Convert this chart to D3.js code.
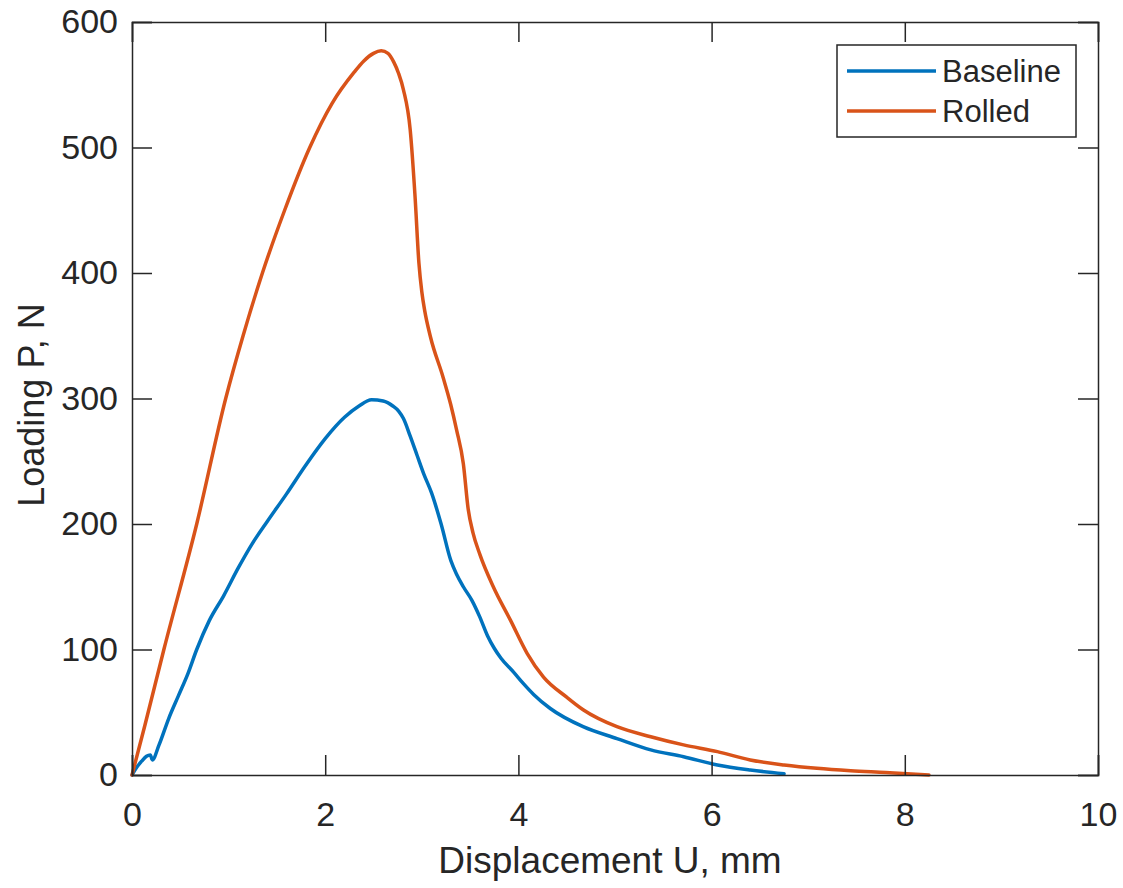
<!DOCTYPE html>
<html>
<head>
<meta charset="utf-8">
<script src="https://cdn.jsdelivr.net/npm/d3@7"></script>
<style>
  body { margin: 0; background: #fff; }
  svg text { font-family: "Liberation Sans", Arial, Helvetica, sans-serif; fill: #262626; }
</style>
</head>
<body>
<svg id="chart" width="1123" height="888"></svg>
<script>
// displacement (mm) and load (N)
var baselineU = [0, 0.03, 0.1, 0.15, 0.19, 0.21, 0.28, 0.38, 0.48, 0.58, 0.67, 0.8, 0.95, 1.1, 1.25, 1.4, 1.6, 1.8, 2.0, 2.2, 2.35, 2.48, 2.6, 2.7, 2.76, 2.81, 2.88, 2.95, 3.02, 3.1, 3.2, 3.3, 3.36, 3.43, 3.52, 3.6, 3.68, 3.75, 3.82, 3.95, 4.05, 4.16, 4.33, 4.67, 5.02, 5.37, 5.71, 6.06, 6.4, 6.75];
var baselineP = [0, 4, 11, 15, 16, 12, 24, 45, 63, 81, 100, 123, 143, 165, 185, 202, 224, 247, 268, 285, 294, 299, 298, 294, 290, 284, 270, 255, 240, 225, 200, 171, 160, 150, 139, 126, 111, 101, 93, 82, 73, 64, 53, 38.5, 29, 20, 14.6, 8, 4, 1];

var rolledU = [0, 0.135, 0.33, 0.67, 0.97, 1.15, 1.35, 1.58, 1.84, 2.07, 2.3, 2.4, 2.5, 2.58, 2.65, 2.71, 2.76, 2.81, 2.88, 2.93, 2.97, 3.0, 3.03, 3.09, 3.22, 3.3, 3.36, 3.43, 3.48, 3.53, 3.6, 3.74, 3.92, 4.09, 4.26, 4.5, 4.67, 5.02, 5.37, 5.71, 6.06, 6.4, 6.75, 7.09, 7.44, 7.8, 8.25];
var rolledP = [0, 40, 100, 200, 300, 350, 400, 450, 500, 535, 560, 569, 575, 577, 575, 568, 559, 546, 514, 461, 408, 385, 370, 349, 317, 295, 275, 248, 212, 193, 176, 150, 123, 97, 78, 62, 52, 38.5, 30.5, 24, 18.6, 12, 8, 5.3, 3.4, 2, 0];

var xTicks = [0, 2, 4, 6, 8, 10];
var yTicks = [0, 100, 200, 300, 400, 500, 600];

var seriesNames = ["Baseline", "Rolled"];
var seriesColors = ["#0072BD", "#D95319"];

var series = [
  {name: seriesNames[0], color: seriesColors[0], pts: baselineU.map(function(u, i){ return [u, baselineP[i]]; })},
  {name: seriesNames[1], color: seriesColors[1], pts: rolledU.map(function(u, i){ return [u, rolledP[i]]; })}
];

var svg = d3.select("#chart");
var plotL = 132, plotR = 1098, plotT = 22, plotB = 775;
var tickLen = 20;
var axisColor = "#262626";

var x = d3.scaleLinear().domain([0, 10]).range([plotL, plotR]);
var y = d3.scaleLinear().domain([0, 600]).range([plotB, plotT]);

// curves
var line = d3.line()
    .x(function(d){ return x(d[0]); })
    .y(function(d){ return y(d[1]); })
    .curve(d3.curveMonotoneX);

svg.append("g").selectAll("path").data(series).enter()
    .append("path")
    .attr("d", function(d){ return line(d.pts); })
    .attr("fill", "none")
    .attr("stroke", function(d){ return d.color; })
    .attr("stroke-width", 3.5)
    .attr("stroke-linejoin", "round")
    .attr("stroke-linecap", "round");

// axes, ticks pointing inward, box on
var bottomAxis = d3.axisBottom(x).tickValues(xTicks).tickSize(-tickLen).tickPadding(27).tickFormat(d3.format("d"));
var topAxis = d3.axisTop(x).tickValues(xTicks).tickSize(-tickLen).tickFormat("");
var leftAxis = d3.axisLeft(y).tickValues(yTicks).tickSize(-tickLen).tickPadding(14).tickFormat(d3.format("d"));
var rightAxis = d3.axisRight(y).tickValues(yTicks).tickSize(-tickLen).tickFormat("");

function styleAxis(g){
  g.selectAll(".domain").attr("stroke", axisColor).attr("stroke-width", 1.5);
  g.selectAll(".tick line").attr("stroke", axisColor).attr("stroke-width", 1.5);
  g.selectAll(".tick text").attr("font-size", 34).attr("fill", axisColor)
   .style("font-family", '"Liberation Sans", Arial, sans-serif');
}

svg.append("g").attr("transform", "translate(0," + plotB + ")").call(bottomAxis).call(styleAxis);
svg.append("g").attr("transform", "translate(0," + plotT + ")").call(topAxis).call(styleAxis);
svg.append("g").attr("transform", "translate(" + plotL + ",0)").call(leftAxis).call(styleAxis);
svg.append("g").attr("transform", "translate(" + plotR + ",0)").call(rightAxis).call(styleAxis);

// axis labels
svg.append("text")
    .attr("x", 610)
    .attr("y", 873)
    .attr("text-anchor", "middle")
    .attr("font-size", 37)
    .text("Displacement U, mm");

svg.append("text")
    .attr("transform", "translate(44,405) rotate(-90)")
    .attr("text-anchor", "middle")
    .attr("font-size", 36)
    .text("Loading P, N");

// legend
var legend = svg.append("g").attr("transform", "translate(837,45)");
legend.append("rect")
    .attr("width", 239).attr("height", 92)
    .attr("fill", "#fff")
    .attr("stroke", axisColor).attr("stroke-width", 1.5);

var items = legend.selectAll("g.item").data(series).enter()
    .append("g").attr("class", "item")
    .attr("transform", function(d, i){ return "translate(0," + (26 + i * 40) + ")"; });

items.append("line")
    .attr("x1", 10).attr("x2", 99)
    .attr("stroke", function(d){ return d.color; })
    .attr("stroke-width", 3.5);

items.append("text")
    .attr("x", 105)
    .attr("dy", "0.35em")
    .attr("font-size", 31)
    .text(function(d){ return d.name; });
</script>
</body>
</html>
